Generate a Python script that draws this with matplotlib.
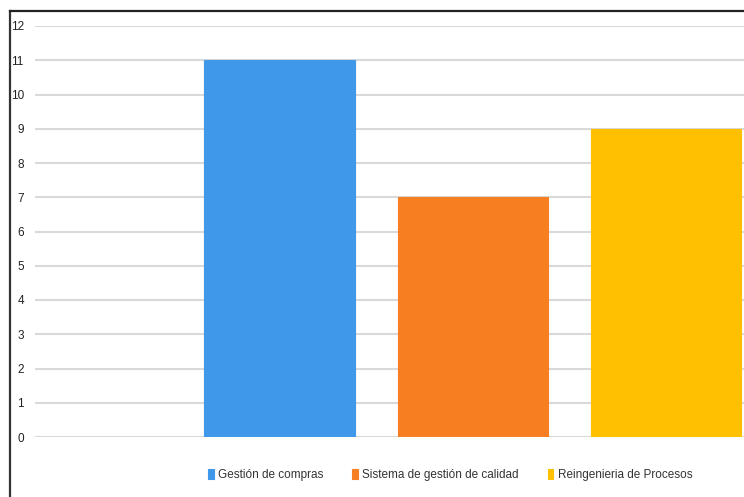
import matplotlib
matplotlib.use("Agg")
import matplotlib.pyplot as plt
from matplotlib.lines import Line2D

categories = ["Gestión de compras", "Sistema de gestión de calidad", "Reingenieria de Procesos"]
values = [11, 7, 9]
colors = ["#3F98EA", "#F87E22", "#FEC000"]
yticks = list(range(0, 13))

plt.rcParams['font.family'] = ['Liberation Sans', 'DejaVu Sans']

fig = plt.figure(figsize=(7.44, 4.97), dpi=100)
ax = fig.add_axes([35/744, (497-437)/497, (744-35)/744, (437-26)/497])

positions = [1, 2, 3]
for x, v, c, lab in zip(positions, values, colors, categories):
    ax.bar(x, v, width=0.78, color=c, edgecolor=c, linewidth=0.8, label=lab, zorder=3)

ax.set_xlim(-0.267, 3.404)
ax.set_ylim(0, 12)
ax.set_yticks(yticks)
ax.set_yticklabels([str(t) for t in yticks], fontsize=8.5, color="#222222")
ax.set_xticks([])
ax.yaxis.grid(True, color="#d9d9d9", linewidth=1.5, zorder=0)
ax.tick_params(axis='y', length=0, pad=8)
for s in ax.spines.values():
    s.set_visible(False)

leg = fig.legend(loc="center", bbox_to_anchor=(450/744, 1 - 475/497), ncol=3, frameon=False,
                 fontsize=8.5, handlelength=0.5, handleheight=0.85, handletextpad=0.35,
                 columnspacing=2.45)
for t in leg.get_texts():
    t.set_color("#333333")

# frame border (top and left) of the cropped screenshot
fig.add_artist(Line2D([10/744, 10/744], [0, 1 - 11/497], transform=fig.transFigure,
                      color="#333333", linewidth=1.6))
fig.add_artist(Line2D([10/744, 1], [1 - 11/497, 1 - 11/497], transform=fig.transFigure,
                      color="#222222", linewidth=1.6))

fig.savefig("out.png", dpi=100, facecolor="white")
